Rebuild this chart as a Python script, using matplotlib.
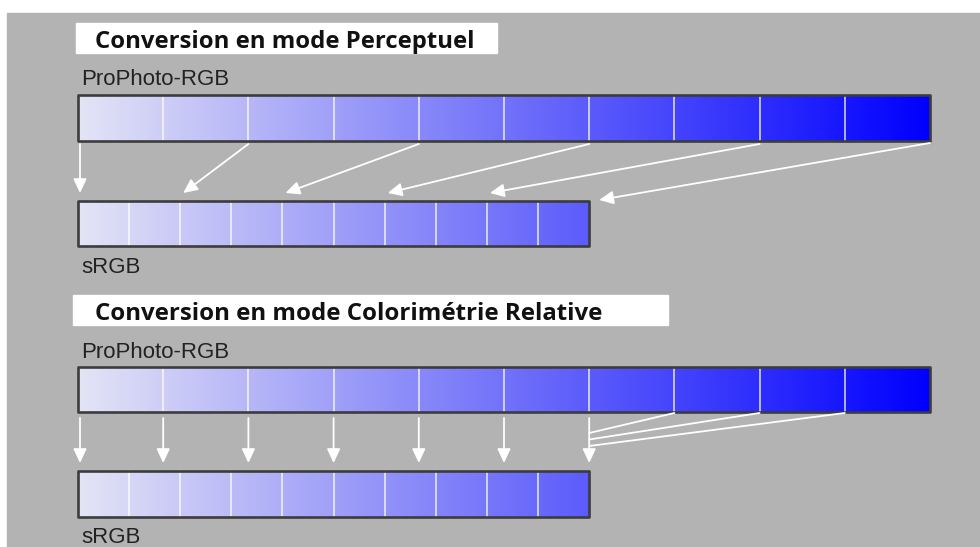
import matplotlib
matplotlib.use("Agg")
import matplotlib.pyplot as plt
import numpy as np
from matplotlib.patches import Rectangle
from matplotlib.colors import LinearSegmentedColormap

# ---------------- data ----------------
titles = ["Conversion en mode Perceptuel", "Conversion en mode Colorimétrie Relative"]
source_label = "ProPhoto-RGB"
target_label = "sRGB"
source_steps = 10          # patches in the ProPhoto-RGB strip
target_steps = 10          # patches in the sRGB strip
target_gamut = 0.6         # share of the ProPhoto range that sRGB covers
gradient_light = "#e4e4f6"
gradient_dark = "#0000ff"

# perceptual: the whole range is compressed
perceptual_src = [0.0, 0.2, 0.4, 0.6, 0.8, 1.0]
perceptual_dst = [0.0, 0.12, 0.24, 0.36, 0.48, 0.60]
# relative colorimetric: in-gamut values kept, the rest clipped
relative_src = [0.0, 0.1, 0.2, 0.3, 0.4, 0.5, 0.6]
relative_dst = [0.0, 0.1, 0.2, 0.3, 0.4, 0.5, 0.6]
clipped_src = [0.7, 0.8, 0.9]
clipped_dst = [0.6, 0.6, 0.6]

# ---------------- layout ----------------
W, H = 980, 547
BAR_X0, BAR_W = 78, 852
BG = "#b3b3b3"
EDGE = "#3c3c3c"

fig = plt.figure(figsize=(W / 100, H / 100), dpi=100, facecolor="white")
ax = fig.add_axes([0, 0, 1, 1])
ax.set_xlim(-BAR_X0 / BAR_W, (W - BAR_X0) / BAR_W)
ax.set_ylim(H, 0)
ax.axis("off")
renderer = fig.canvas.get_renderer()


def px(p):
    return (p - BAR_X0) / BAR_W


def pw(w):
    return w / BAR_W


ax.add_patch(Rectangle((px(7), 13), pw(W - 7), H - 13, color=BG, zorder=0))

cmap = LinearSegmentedColormap.from_list("pp", [gradient_light, gradient_dark])


def draw_strip(y0, y1, extent, steps):
    grad = np.linspace(0, extent, 800)[None, :]
    ax.imshow(grad, cmap=cmap, vmin=0, vmax=1, extent=(0, extent, y1, y0),
              aspect="auto", interpolation="bilinear", zorder=2)
    for k in range(1, steps):
        x = extent * k / steps
        ax.plot([x, x], [y0, y1], color="white", lw=1.1, alpha=0.85, zorder=3)
    ax.add_patch(Rectangle((0, y0), extent, y1 - y0, fill=False, ec=EDGE,
                           lw=1.9, zorder=4, joinstyle="round"))


def arrow(x0, y0, x1, y1):
    ax.annotate("", xy=(x1, y1), xytext=(x0, y0),
                arrowprops=dict(arrowstyle="-|>,head_length=0.85,head_width=0.4",
                                color="white", lw=1.3, shrinkA=0, shrinkB=0,
                                mutation_scale=10), zorder=5)


def fitted_text(x, base, text, width_px, **kw):
    t = ax.text(x, base, text, va="baseline", ha="left", fontsize=16, **kw)
    w = t.get_window_extent(renderer=renderer).width
    t.set_fontsize(16 * width_px / w)
    return t


def title_box(text, x0, x1, y0, y1, tx, base, width_px):
    ax.add_patch(Rectangle((px(x0), y0), pw(x1 - x0), y1 - y0, color="white", zorder=1))
    fitted_text(px(tx), base, text, width_px, fontweight="bold", family="Open Sans",
                color="#111111", zorder=6)


def label(text, base):
    ax.text(px(81), base, text, fontsize=16, family="Liberation Sans",
            va="baseline", ha="left", color="#222222", zorder=6)


inset = pw(2)

# ---- panel 1: perceptual ----
title_box(titles[0], 76, 497, 23, 53, 95, 47.5, 380)
label(source_label, 85)
draw_strip(95, 141, 1.0, source_steps)
draw_strip(201, 246, target_gamut, target_steps)
label(target_label, 273)
for s, d in zip(perceptual_src, perceptual_dst):
    if d >= target_gamut:
        arrow(s, 143, d + pw(10), 200)
    else:
        arrow(s + (inset if s == 0 else 0), 144, d + (inset if d == 0 else pw(3)), 193)

# ---- panel 2: relative colorimetric ----
title_box(titles[1], 73, 668, 295, 325, 95, 319.5, 506)
label(source_label, 358)
draw_strip(367, 412, 1.0, source_steps)
draw_strip(471, 517, target_gamut, target_steps)
label(target_label, 543)
for s, d in zip(relative_src, relative_dst):
    arrow(s + (inset if s == 0 else 0), 418, d + (inset if d == 0 else 0), 463)
for k, (s, d) in enumerate(zip(clipped_src, clipped_dst)):
    ax.plot([s, d], [413, 433 + 6.5 * k], color="white", lw=1.3, zorder=5,
            solid_capstyle="round")

fig.savefig("out.png", dpi=100, facecolor="white")
